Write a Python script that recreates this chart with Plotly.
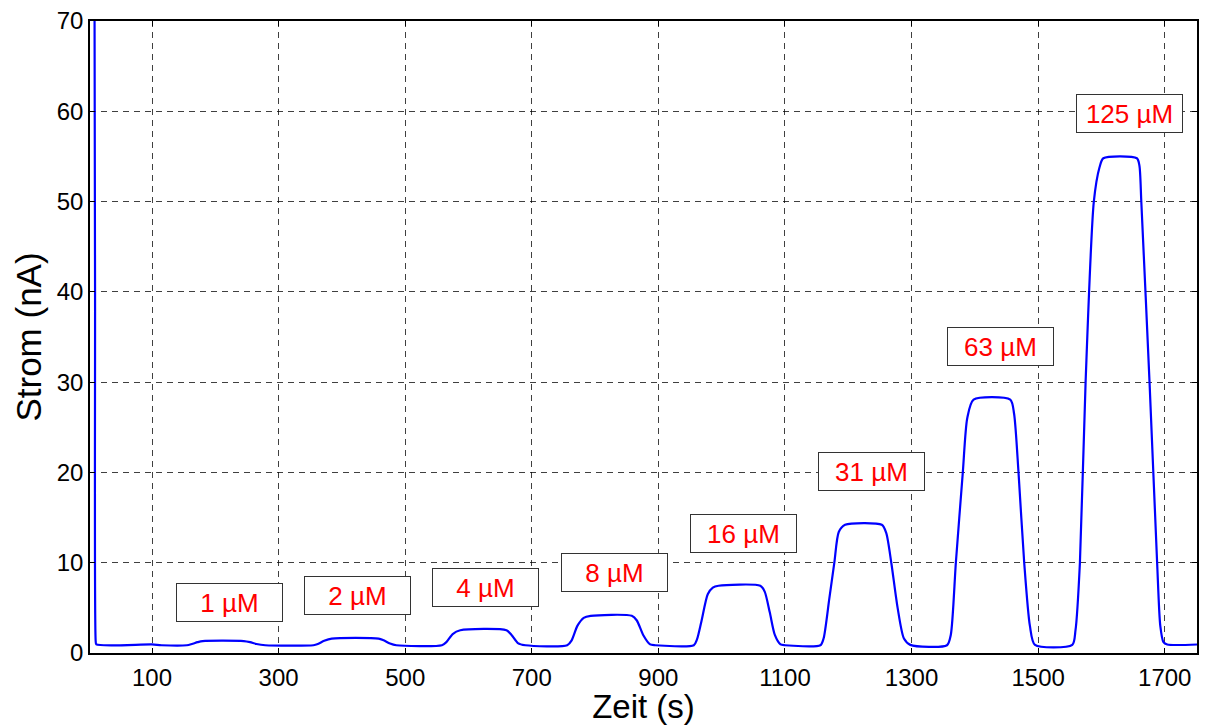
import plotly.graph_objects as go

# Time (s) and current (nA)
time_s = [9, 10, 11, 12, 100, 115, 155, 163, 172, 180, 245, 255, 265, 279,
          355, 362, 372, 384, 458, 466, 476, 486,
          558, 565, 575, 587, 660, 668, 678, 690,
          756, 763, 772, 782, 793, 858, 866, 876, 887, 895,
          956, 961, 968, 978, 986, 995, 1061, 1068, 1076, 1084, 1093, 1100,
          1156, 1161, 1170, 1178, 1185, 1195, 1253, 1260, 1268, 1278, 1288, 1298,
          1356, 1362, 1370, 1381, 1388, 1398, 1456, 1462, 1469, 1478, 1487, 1495,
          1554, 1559, 1566, 1575, 1588, 1597, 1603, 1656, 1660, 1663, 1676, 1688, 1693, 1698, 1704, 1751]
current_nA = [78, 40, 1.3, 0.95, 0.95, 0.86, 0.86, 1.0, 1.2, 1.32, 1.32, 1.2, 1.0, 0.86,
              0.86, 1.0, 1.35, 1.6, 1.6, 1.4, 1.05, 0.86,
              0.86, 1.2, 2.1, 2.52, 2.52, 2.0, 1.1, 0.86,
              0.86, 1.4, 3.0, 3.9, 4.12, 4.12, 3.6, 2.0, 0.95, 0.86,
              0.86, 1.5, 3.5, 6.5, 7.25, 7.45, 7.45, 6.8, 4.5, 2.0, 0.95, 0.86,
              0.86, 1.6, 6.0, 10.0, 13.4, 14.2, 14.2, 13.3, 10.0, 5.0, 1.6, 0.9,
              0.86, 2.0, 10.0, 20.0, 26.0, 28.07, 28.07, 26.5, 20.0, 10.0, 3.0, 0.9,
              0.9, 2.5, 10.0, 30.0, 50.0, 53.8, 54.8, 54.8, 54.0, 50.0, 30.0, 10.0, 3.0, 1.2, 0.94, 0.94]

# Concentration labels and their positions
labels = ["1 µM", "2 µM", "4 µM", "8 µM", "16 µM", "31 µM", "63 µM", "125 µM"]
label_t = [222, 424, 627, 830, 1035, 1237, 1441, 1644]
label_y = [5.54, 6.38, 7.27, 8.95, 13.23, 20.1, 33.9, 59.7]

x_ticks = [100, 300, 500, 700, 900, 1100, 1300, 1500, 1700]
y_ticks = [0, 10, 20, 30, 40, 50, 60, 70]

FONT = "Liberation Sans, Arial, sans-serif"

fig = go.Figure()
fig.add_trace(go.Scatter(x=time_s, y=current_nA, mode="lines",
                         line=dict(color="#0000FF", width=2.2, shape="spline", smoothing=0.7),
                         showlegend=False, hoverinfo="skip"))

for txt, tx, ty in zip(labels, label_t, label_y):
    fig.add_annotation(x=tx, y=ty, text=txt, showarrow=False,
                       font=dict(family=FONT, size=26, color="#FF0000"),
                       bgcolor="white", bordercolor="#333333", borderwidth=1,
                       borderpad=0, width=105, height=37)

grid_common = dict(showgrid=True, gridcolor="rgba(0,0,0,0.75)", gridwidth=1,
                   griddash="6px,5px", showline=True, linecolor="black", linewidth=1.5,
                   mirror="ticks", ticks="inside", ticklen=5, tickcolor="black",
                   zeroline=False, tickfont=dict(family=FONT, size=24, color="black"))

fig.update_xaxes(range=[2, 1751], tickvals=x_ticks, ticklabelstandoff=2,
                 title=dict(text="Zeit (s)", font=dict(family=FONT, size=33, color="black"), standoff=4),
                 **grid_common)
fig.update_yaxes(range=[0, 70], tickvals=y_ticks,
                 title=dict(text="Strom (nA)", font=dict(family=FONT, size=35, color="black"), standoff=4),
                 **grid_common)

fig.update_layout(width=1205, height=725, paper_bgcolor="white", plot_bgcolor="white",
                  margin=dict(l=90, r=8, t=21, b=72, autoexpand=False))

fig.write_html("out.html")
